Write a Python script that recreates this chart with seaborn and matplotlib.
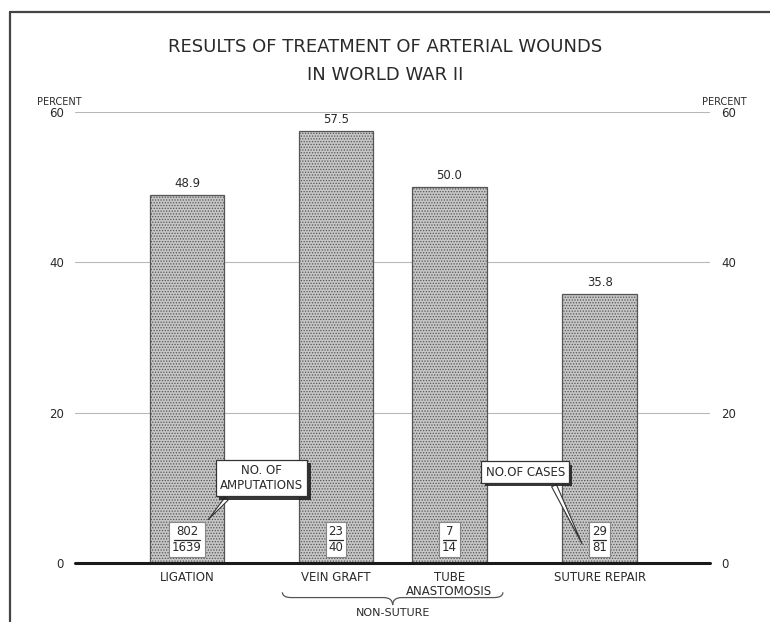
import numpy as np
import pandas as pd
import matplotlib
matplotlib.use("Agg")
import matplotlib.pyplot as plt
import matplotlib.patheffects as pe
from matplotlib.path import Path
from matplotlib.patches import PathPatch
from matplotlib.lines import Line2D
import seaborn as sns

# data
treatments = ["LIGATION", "VEIN GRAFT", "TUBE\nANASTOMOSIS", "SUTURE REPAIR"]
percent = [48.9, 57.5, 50.0, 35.8]
amputations = [802, 23, 7, 29]
cases = [1639, 40, 14, 81]
x_pos = [0.0, 1.0, 1.76, 2.77]  # bars are not evenly spaced in the original
yticks = [0, 20, 40, 60]

df = pd.DataFrame({"treatment": treatments, "percent": percent, "pos": x_pos})

sns.set_style("white")
plt.rcParams["font.family"] = ["DejaVu Sans"]
plt.rcParams["hatch.color"] = "#a4a4a4"
plt.rcParams["hatch.linewidth"] = 0.6
ink = "#2a2a2a"

fig = plt.figure(figsize=(7.7, 6.22), dpi=100)
ax = fig.add_axes([75 / 770, 59 / 622, 635 / 770, 451 / 622])

min_gap = np.min(np.diff(sorted(x_pos)))
sns.barplot(data=df, x="pos", y="percent", native_scale=True, width=0.5 / min_gap,
            color="#c6c6c6", edgecolor="#555555", linewidth=0.9, hatch="......",
            errorbar=None, ax=ax, zorder=3)
for p in ax.patches:
    p.set_facecolor("#c6c6c6")

ax.set_xlim(-0.752, 3.51)
ax.set_ylim(0, 60)
for s in ax.spines.values():
    s.set_visible(False)

for v in yticks[1:]:
    ax.axhline(v, color="#b8b8b8", lw=0.8, zorder=1)
ax.axhline(0, color="#1a1a1a", lw=2.2, zorder=5, clip_on=False)

ax.set_yticks(yticks)
ax.set_yticklabels([str(v) for v in yticks], fontsize=8.5, color=ink)
ax.tick_params(axis="y", length=0, pad=8, labelleft=True, labelright=True)
ax.set_xticks(x_pos)
ax.set_xticklabels(treatments, fontsize=8.5, color=ink, linespacing=1.1)
ax.tick_params(axis="x", length=0, pad=6)
ax.set_xlabel("")
ax.set_ylabel("")

ax.text(-0.024, 1.012, "PERCENT", transform=ax.transAxes, ha="center", va="bottom",
        fontsize=7, color=ink)
ax.text(1.022, 1.012, "PERCENT", transform=ax.transAxes, ha="center", va="bottom",
        fontsize=7, color=ink)

# value labels over bars
for x, v in zip(x_pos, percent):
    ax.text(x, v + 0.7, f"{v:.1f}", ha="center", va="bottom", fontsize=8.5, color=ink)

# fraction boxes: amputations over cases
for x, a, c in zip(x_pos, amputations, cases):
    ax.text(x, 3.1, f"{a}\n{c}", ha="center", va="center", fontsize=8.5,
            color=ink, linespacing=1.25, zorder=6,
            bbox=dict(boxstyle="square,pad=0.25", fc="white", ec="#888888", lw=0.8))
    w = 0.022 * max(len(str(a)), len(str(c)))
    ax.plot([x - w, x + w], [3.1, 3.1], color=ink, lw=0.9, zorder=7)

# callouts with shadowed boxes
shadow = [pe.withSimplePatchShadow(offset=(2.5, -2.5), shadow_rgbFace="#222222", alpha=0.9)]
a1 = ax.annotate("NO. OF\nAMPUTATIONS", xy=(0.13, 5.5), xytext=(0.50, 11.3),
                 ha="center", va="center", fontsize=8.5, color=ink, zorder=8,
                 bbox=dict(boxstyle="square,pad=0.35", fc="white", ec="#333333", lw=0.9),
                 arrowprops=dict(arrowstyle="wedge,tail_width=0.35", fc="white",
                                 ec="#333333", lw=0.8, relpos=(0.15, 0.0)))
a1.get_bbox_patch().set_path_effects(shadow)
a2 = ax.annotate("NO.OF CASES", xy=(2.66, 2.2), xytext=(2.27, 12.1),
                 ha="center", va="center", fontsize=8.5, color=ink, zorder=8,
                 bbox=dict(boxstyle="square,pad=0.35", fc="white", ec="#333333", lw=0.9),
                 arrowprops=dict(arrowstyle="wedge,tail_width=0.45", fc="white",
                                 ec="#333333", lw=0.8, relpos=(0.82, 0.0)))
a2.get_bbox_patch().set_path_effects(shadow)

# brace under the non-suture group
x0, x1 = 0.64, 2.12
xm = (x0 + x1) / 2
yt, ymid, yb = -3.9, -4.6, -5.6
verts = [(x0, yt), (x0, ymid), (x0 + 0.06, ymid),
         (xm - 0.06, ymid), (xm, ymid), (xm, yb),
         (xm, ymid), (xm + 0.06, ymid),
         (x1 - 0.06, ymid), (x1, ymid), (x1, yt)]
codes = [Path.MOVETO, Path.CURVE3, Path.CURVE3,
         Path.LINETO, Path.CURVE3, Path.CURVE3,
         Path.CURVE3, Path.CURVE3,
         Path.LINETO, Path.CURVE3, Path.CURVE3]
ax.add_patch(PathPatch(Path(verts, codes), fc="none", ec="#555555", lw=0.9, clip_on=False))
ax.text(xm, -6.6, "NON-SUTURE", ha="center", va="center", fontsize=8, color=ink,
        clip_on=False)

# title
fig.text(0.5, 1 - 47 / 622, "RESULTS OF TREATMENT OF ARTERIAL WOUNDS", ha="center",
         va="center", fontsize=13, color=ink)
fig.text(0.5, 1 - 75 / 622, "IN WORLD WAR II", ha="center", va="center",
         fontsize=13, color=ink)

# page frame (top and left edges)
fig.add_artist(Line2D([10 / 770, 1.0], [1 - 12 / 622, 1 - 12 / 622],
                      transform=fig.transFigure, color="#444444", lw=1.6))
fig.add_artist(Line2D([10 / 770, 10 / 770], [0, 1 - 12 / 622],
                      transform=fig.transFigure, color="#444444", lw=1.6))

fig.savefig("out.png", dpi=100, facecolor="white")
